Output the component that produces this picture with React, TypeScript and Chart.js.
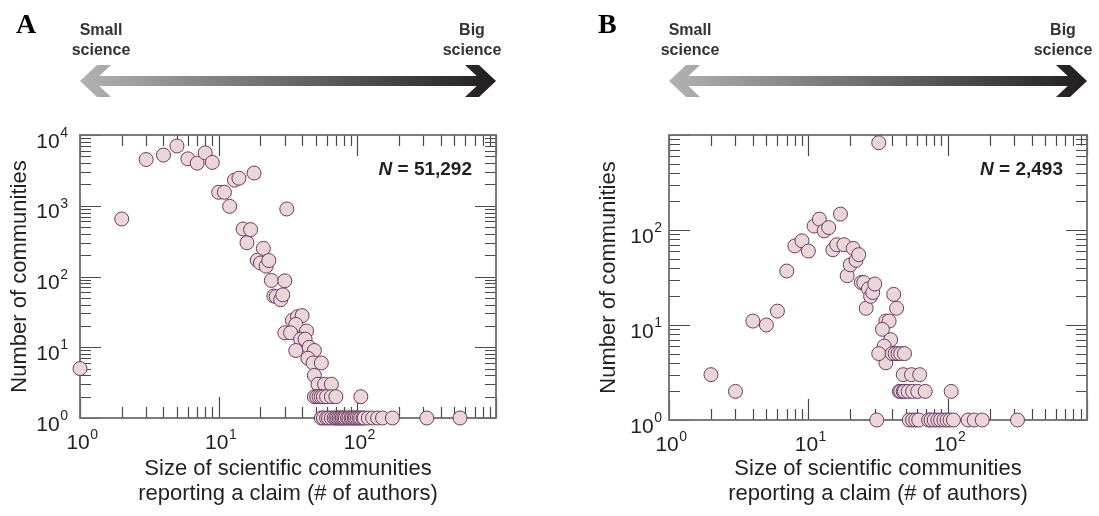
import React, { useEffect, useRef } from 'react';
import { Chart, registerables } from 'chart.js';

Chart.register(...registerables);

const FONT = '"Liberation Sans", Arial, Helvetica, sans-serif';
const SERIF = '"Liberation Serif", "Times New Roman", serif';
const TEXT = '#231f20';

// ---------- Panel A data: community size (# authors) vs number of communities ----------
const sizesA = [
  1, 2, 3, 4, 5, 6, 7, 8, 9, 10, 11, 12, 13, 14, 15, 16, 17, 18, 19, 20, 21, 22, 23, 24,
  25, 26, 28, 29, 30, 31, 34, 37, 40, 36, 43, 30, 33, 39, 42, 36, 45, 49, 44, 48, 55,
  49, 52, 58, 65,
  49, 51, 53, 55, 57, 60, 65, 70, 106,
  55, 57, 60, 62, 65, 68, 70, 72, 74, 76, 78, 80, 82, 85, 87, 90, 92, 95, 97, 100, 103,
  106, 110, 112, 120, 129, 140, 152, 179, 317, 550,
];
const countsA = [
  5, 650, 4500, 5200, 7000, 4600, 4000, 5600, 4100, 1550, 1550, 980, 2300, 2450, 470, 300,
  460, 2900, 170, 155, 250, 140, 168, 88,
  53, 52, 47, 55, 87, 900, 24, 27, 28, 21, 17, 16, 16, 13, 13, 9, 10, 9, 7, 6, 6,
  4, 3, 3, 3,
  2, 2, 2, 2, 2, 2, 2, 2, 2,
  1, 1, 1, 1, 1, 1, 1, 1, 1, 1, 1, 1, 1, 1, 1, 1, 1, 1, 1, 1, 1,
  1, 1, 1, 1, 1, 1, 1, 1, 1, 1,
];

// ---------- Panel B data ----------
const sizesB = [
  2, 3, 4, 5, 6, 7, 8, 9, 10, 11, 12, 13, 14, 15, 16, 17, 18, 19, 20, 21, 22, 23, 24, 25,
  26, 27, 28, 29, 30, 32,
  36, 38, 34, 39, 35, 36, 41, 43,
  32, 40, 42, 44, 46, 49,
  48, 55, 63,
  45, 46, 48, 49, 52, 56, 61, 69, 106,
  31, 53, 56, 59, 62, 73, 76, 80, 85, 89, 94, 99, 104, 110, 140, 155, 177, 317,
];
const countsB = [
  3, 2, 11, 10, 14, 37, 68, 77, 60, 110, 130, 98, 106, 62, 70, 147, 70, 33, 43, 64, 48, 55,
  28, 28, 15, 24, 20, 22, 27, 830,
  11, 11, 9, 7, 6, 4, 21, 15,
  5, 5, 5, 5, 5, 5,
  3, 3, 3,
  2, 2, 2, 2, 2, 2, 2, 2, 2,
  1, 1, 1, 1, 1, 1, 1, 1, 1, 1, 1, 1, 1, 1, 1, 1, 1, 1,
];

// ---------- axes / labels ----------
const xRange = [1, 1000];
const yRangeA = [1, 10000];
const yRangeB = [1, 1000];
const xTickExps = [0, 1, 2];
const yTickExpsA = [0, 1, 2, 3, 4];
const yTickExpsB = [0, 1, 2];
const panelLetters = ['A', 'B'];
const nValues = ['51,292', '2,493'];
const xTitle = ['Size of scientific communities', 'reporting a claim (# of authors)'];
const yTitle = 'Number of communities';
const leftEndLabel = ['Small', 'science'];
const rightEndLabel = ['Big', 'science'];

type PanelCfg = {
  letter: string;
  nText: string;
  sizes: number[];
  counts: number[];
  yRange: number[];
  yExps: number[];
  padding: { left: number; top: number; right: number; bottom: number };
  yAxisWidth: number;
  xAxisHeight: number;
  yLabelGap: number;
  letterX: number;
};

function tickValues(min: number, max: number) {
  const out: { v: number; major: boolean }[] = [];
  const e0 = Math.round(Math.log10(min));
  const e1 = Math.round(Math.log10(max));
  for (let e = e0; e < e1; e++) {
    for (let k = 1; k <= 9; k++) out.push({ v: k * Math.pow(10, e), major: k === 1 });
  }
  out.push({ v: Math.pow(10, e1), major: true });
  return out;
}

function makeDecor(cfg: PanelCfg) {
  return {
    id: 'decor' + cfg.letter,
    beforeDatasetsDraw(chart: any) {
      const { ctx, chartArea: a, scales } = chart;
      const xs = scales.x;
      const ys = scales.y;
      ctx.save();
      ctx.strokeStyle = '#4a4a4a';
      ctx.lineWidth = 1.2;
      ctx.beginPath();
      for (const t of tickValues(xs.min, xs.max)) {
        const px = Math.round(xs.getPixelForValue(t.v)) + 0.5;
        const len = t.major ? 21 : 11;
        ctx.moveTo(px, a.bottom);
        ctx.lineTo(px, a.bottom - len);
        ctx.moveTo(px, a.top);
        ctx.lineTo(px, a.top + len);
      }
      for (const t of tickValues(ys.min, ys.max)) {
        const py = Math.round(ys.getPixelForValue(t.v)) + 0.5;
        const len = t.major ? 21 : 11;
        ctx.moveTo(a.left, py);
        ctx.lineTo(a.left + len, py);
        ctx.moveTo(a.right, py);
        ctx.lineTo(a.right - len, py);
      }
      ctx.stroke();
      ctx.strokeStyle = '#6e6e6e';
      ctx.lineWidth = 1.8;
      ctx.strokeRect(a.left, a.top, a.right - a.left, a.bottom - a.top);
      ctx.restore();
    },
    afterDraw(chart: any) {
      const { ctx, chartArea: a, scales } = chart;
      const xs = scales.x;
      const ys = scales.y;
      ctx.save();
      ctx.fillStyle = TEXT;
      const baseFont = `21px ${FONT}`;
      const expFont = `14px ${FONT}`;
      // x tick labels
      ctx.textBaseline = 'alphabetic';
      for (const e of xTickExps) {
        const px = xs.getPixelForValue(Math.pow(10, e));
        ctx.font = baseFont;
        const w1 = ctx.measureText('10').width;
        ctx.font = expFont;
        const w2 = ctx.measureText(String(e)).width;
        const start = px + 2 - (w1 + w2) / 2;
        ctx.textAlign = 'left';
        ctx.font = baseFont;
        ctx.fillText('10', start, a.bottom + 31);
        ctx.font = expFont;
        ctx.fillText(String(e), start + w1 + 0.5, a.bottom + 21);
      }
      // y tick labels
      for (const e of cfg.yExps) {
        const py = ys.getPixelForValue(Math.pow(10, e));
        const right = a.left - cfg.yLabelGap;
        ctx.textAlign = 'right';
        ctx.font = expFont;
        const w2 = ctx.measureText(String(e)).width;
        ctx.fillText(String(e), right, py + 2);
        ctx.font = baseFont;
        ctx.fillText('10', right - w2 - 0.5, py + 12.5);
      }
      // N label
      ctx.textAlign = 'right';
      ctx.font = `bold 19px ${FONT}`;
      const rest = ' = ' + cfg.nText;
      const rw = ctx.measureText(rest).width;
      ctx.fillText(rest, a.right - 24, 175);
      ctx.font = `italic bold 19px ${FONT}`;
      ctx.fillText('N', a.right - 24 - rw, 175);
      // panel letter
      ctx.textAlign = 'left';
      ctx.font = `bold 28px ${SERIF}`;
      ctx.fillStyle = '#000';
      ctx.fillText(cfg.letter, cfg.letterX, 33);
      // arrow
      const L = a.left;
      const R = a.right;
      const cy = 81;
      const g = ctx.createLinearGradient(L, 0, R, 0);
      g.addColorStop(0, '#b2b2b2');
      g.addColorStop(1, '#221e1f');
      ctx.fillStyle = g;
      ctx.fillRect(L + 12, cy - 5, R - L - 24, 10);
      ctx.beginPath();
      ctx.moveTo(R - 31, cy - 16);
      ctx.lineTo(R - 17, cy - 16);
      ctx.lineTo(R, cy);
      ctx.lineTo(R - 17, cy + 16);
      ctx.lineTo(R - 31, cy + 16);
      ctx.lineTo(R - 14, cy);
      ctx.closePath();
      ctx.fill();
      ctx.beginPath();
      ctx.moveTo(L + 31, cy - 16);
      ctx.lineTo(L + 17, cy - 16);
      ctx.lineTo(L, cy);
      ctx.lineTo(L + 17, cy + 16);
      ctx.lineTo(L + 31, cy + 16);
      ctx.lineTo(L + 14, cy);
      ctx.closePath();
      ctx.fill();
      // end labels
      ctx.fillStyle = '#333';
      ctx.font = `bold 16px ${FONT}`;
      ctx.textAlign = 'center';
      ctx.fillText(leftEndLabel[0], L + 21, 35);
      ctx.fillText(leftEndLabel[1], L + 21, 55);
      ctx.fillText(rightEndLabel[0], R - 24, 35);
      ctx.fillText(rightEndLabel[1], R - 24, 55);
      ctx.restore();
    },
  };
}

function Panel({ cfg, left, width }: { cfg: PanelCfg; left: number; width: number }) {
  const ref = useRef<HTMLCanvasElement>(null);
  useEffect(() => {
    const canvas = ref.current!;
    const chart = new Chart(canvas, {
      type: 'scatter',
      data: {
        datasets: [
          {
            data: cfg.sizes.map((x, i) => ({ x, y: cfg.counts[i] })),
            pointRadius: 7,
            pointHoverRadius: 7,
            pointBackgroundColor: '#ead6d9',
            pointBorderColor: '#6a3a62',
            pointBorderWidth: 1,
            showLine: false,
            clip: false as any,
          },
        ],
      },
      options: {
        animation: false,
        responsive: false,
        devicePixelRatio: 1,
        events: [],
        layout: { padding: cfg.padding },
        plugins: { legend: { display: false }, tooltip: { enabled: false } },
        scales: {
          x: {
            type: 'logarithmic',
            min: xRange[0],
            max: xRange[1],
            grid: { display: false },
            border: { display: false },
            ticks: { display: false },
            title: {
              display: true,
              text: xTitle,
              color: TEXT,
              font: { family: FONT, size: 22, lineHeight: 1.15 },
              padding: { top: 0, bottom: 9 },
            },
            afterFit: (s: any) => {
              s.height = cfg.xAxisHeight;
            },
          },
          y: {
            type: 'logarithmic',
            min: cfg.yRange[0],
            max: cfg.yRange[1],
            grid: { display: false },
            border: { display: false },
            ticks: { display: false },
            title: {
              display: true,
              text: yTitle,
              color: TEXT,
              font: { family: FONT, size: 22, lineHeight: 1.15 },
              padding: { top: 7, bottom: 0 },
            },
            afterFit: (s: any) => {
              s.width = cfg.yAxisWidth;
            },
          },
        } as any,
      },
      plugins: [makeDecor(cfg)],
    });
    return () => chart.destroy();
  }, []);
  return (
    <canvas
      ref={ref}
      width={width}
      height={516}
      style={{ position: 'absolute', left, top: 0, width, height: 516 }}
    />
  );
}

const cfgA: PanelCfg = {
  letter: panelLetters[0],
  nText: nValues[0],
  sizes: sizesA,
  counts: countsA,
  yRange: yRangeA,
  yExps: yTickExpsA,
  padding: { left: 0, top: 135, right: 53, bottom: 0 },
  yAxisWidth: 80,
  xAxisHeight: 98,
  yLabelGap: 12,
  letterX: 16,
};

const cfgB: PanelCfg = {
  letter: panelLetters[1],
  nText: nValues[1],
  sizes: sizesB,
  counts: countsB,
  yRange: yRangeB,
  yExps: yTickExpsB,
  padding: { left: 40, top: 135, right: 12, bottom: 0 },
  yAxisWidth: 80,
  xAxisHeight: 96,
  yLabelGap: 7,
  letterX: 49,
};

export default function App() {
  return (
    <div style={{ position: 'absolute', left: 0, top: 0, width: 1099, height: 516, background: '#fff', overflow: 'hidden' }}>
      <Panel cfg={cfgA} left={0} width={549} />
      <Panel cfg={cfgB} left={549} width={550} />
    </div>
  );
}
